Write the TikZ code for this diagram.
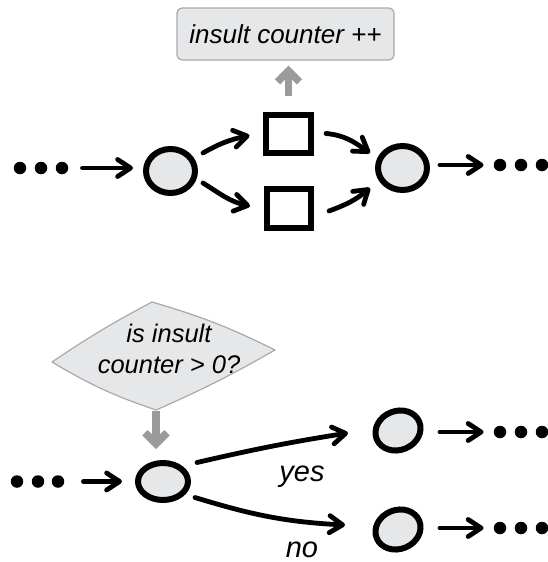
\documentclass[tikz,border=0pt]{standalone}
\usepackage{fontspec}
\newfontfamily\labelfont{Liberation Sans}
\usetikzlibrary{arrows.meta,shapes.geometric}
\definecolor{statefill}{HTML}{E6E7E8}
\definecolor{noteline}{HTML}{A7A9AC}
\definecolor{hintgray}{HTML}{9B9B9B}

\begin{document}
\begin{tikzpicture}[x=1pt,y=1pt,
  roundnode/.style={ellipse, draw=black, line width=6pt, fill=statefill, inner sep=0pt},
  squarenode/.style={rectangle, draw=black, line width=6pt, fill=white, inner sep=0pt},
  blob/.style={circle, fill=black, minimum size=12.5pt, inner sep=0pt},
  flow/.style={line width=4.8pt, line cap=round, -{Straight Barb[length=13pt,width=17pt,round]}},
  hintarrow/.style={draw=hintgray, line width=7.5pt, -{Straight Barb[length=11pt,width=22pt]}},
  txt/.style={font=\labelfont\itshape\fontsize{25.5}{31}\selectfont},
  edgelabel/.style={font=\labelfont\itshape\fontsize{29}{31}\selectfont, inner sep=0pt},
]
\useasboundingbox (0,0) rectangle (547,-562);

% ---------- upper net: counting insults ----------
\node[txt, font=\labelfont\itshape\fontsize{26}{31}\selectfont, draw=noteline, fill=statefill,
      rounded corners=5pt, line width=1.2pt,
      minimum width=217pt, minimum height=52pt, inner sep=0pt] (note) at (285.5,-34) {insult counter ++};

\node[roundnode, minimum width=49pt, minimum height=44pt] (cA) at (170.5,-171) {};
\node[roundnode, minimum width=49pt, minimum height=44pt] (cB) at (402.5,-168) {};
\node[squarenode, minimum width=45pt, minimum height=38pt] (sqTop) at (288.5,-134) {};
\node[squarenode, minimum width=44pt, minimum height=39pt] (sqBot) at (289,-208.5) {};

\node[blob] (dA1) at (20,-168) {};
\node[blob] (dA2) at (41,-168) {};
\node[blob] (dA3) at (62,-168) {};
\node[blob] (dB1) at (500,-165) {};
\node[blob] (dB2) at (521,-165) {};
\node[blob] (dB3) at (542,-165) {};

\draw[flow, shorten <=14pt, shorten >=37.5pt] (dA3.east) -- (dA3.east -| cA.center);
\draw[flow, shorten <=37.5pt, shorten >=10pt] (cB.center |- dB1.west) -- (dB1.west);

\draw[flow] ([shift={(32.5,18)}]cA.center) to[out=30,in=192] ([shift={(-13.5,-1.5)}]sqTop.west);
\draw[flow] ([shift={(32.5,-12)}]cA.center) to[out=-32,in=168] ([shift={(-14,2.5)}]sqBot.west);
\draw[flow] ([shift={(12,0.5)}]sqTop.east) to[out=-5,in=145] ([shift={(-32.5,15)}]cB.center);
\draw[flow] ([shift={(15,-2.5)}]sqBot.east) to[out=20,in=-140] ([shift={(-32.5,-20)}]cB.center);

\draw[hintarrow, shorten <=16pt, shorten >=5pt] (sqTop.north) -- (sqTop.north |- note.south);

% ---------- lower net: the decision ----------
\coordinate (qL) at (52,-362);
\coordinate (qT) at (152,-302);
\coordinate (qR) at (275,-350);
\coordinate (qB) at (156,-410);
\draw[draw=noteline, fill=statefill, line width=1.2pt, line join=round]
  (qL) to[bend left=3] (qT) to[bend left=5] (qR) to[bend left=3] (qB) to[bend left=6] (qL) -- cycle;
\node[txt, align=center, inner sep=0pt] (question) at (169,-348.4) {is insult\\counter > 0?};

\node[roundnode, minimum width=50pt, minimum height=37pt] (cC) at (163,-481.5) {};
\node[roundnode, minimum width=46pt, minimum height=39pt, rotate=22] (cD) at (398,-430.5) {};
\node[roundnode, minimum width=46pt, minimum height=39pt, rotate=22] (cE) at (398,-529.5) {};

\node[blob] (dC1) at (17,-481.5) {};
\node[blob] (dC2) at (38,-481.5) {};
\node[blob] (dC3) at (58,-481.5) {};
\node[blob] (dD1) at (500,-432) {};
\node[blob] (dD2) at (521,-432) {};
\node[blob] (dD3) at (542,-432) {};
\node[blob] (dE1) at (500,-528) {};
\node[blob] (dE2) at (521,-528) {};
\node[blob] (dE3) at (542,-528) {};

\draw[flow, shorten <=19pt, shorten >=13pt] (dC3.east) -- (cC.west);
\draw[flow, shorten <=42pt, shorten >=10pt] (cD.center |- dD1.west) -- (dD1.west);
\draw[flow, shorten <=42pt, shorten >=10pt] (cE.center |- dE1.west) -- (dE1.west);

\draw[flow] ([shift={(34,19)}]cC.center) to[out=13,in=189] ([shift={(-50,-2.5)}]cD.center);
\draw[flow] ([shift={(32,-16)}]cC.center) to[out=-17,in=177] ([shift={(-53,4.5)}]cE.center);

\node[edgelabel, anchor=base] (lblYes) at (302,-481) {yes};
\node[edgelabel, anchor=base] (lblNo) at (302,-557) {no};

\draw[hintarrow, shorten <=1pt, shorten >=11pt] (qB) -- (qB |- cC.north);
\end{tikzpicture}
\end{document}
